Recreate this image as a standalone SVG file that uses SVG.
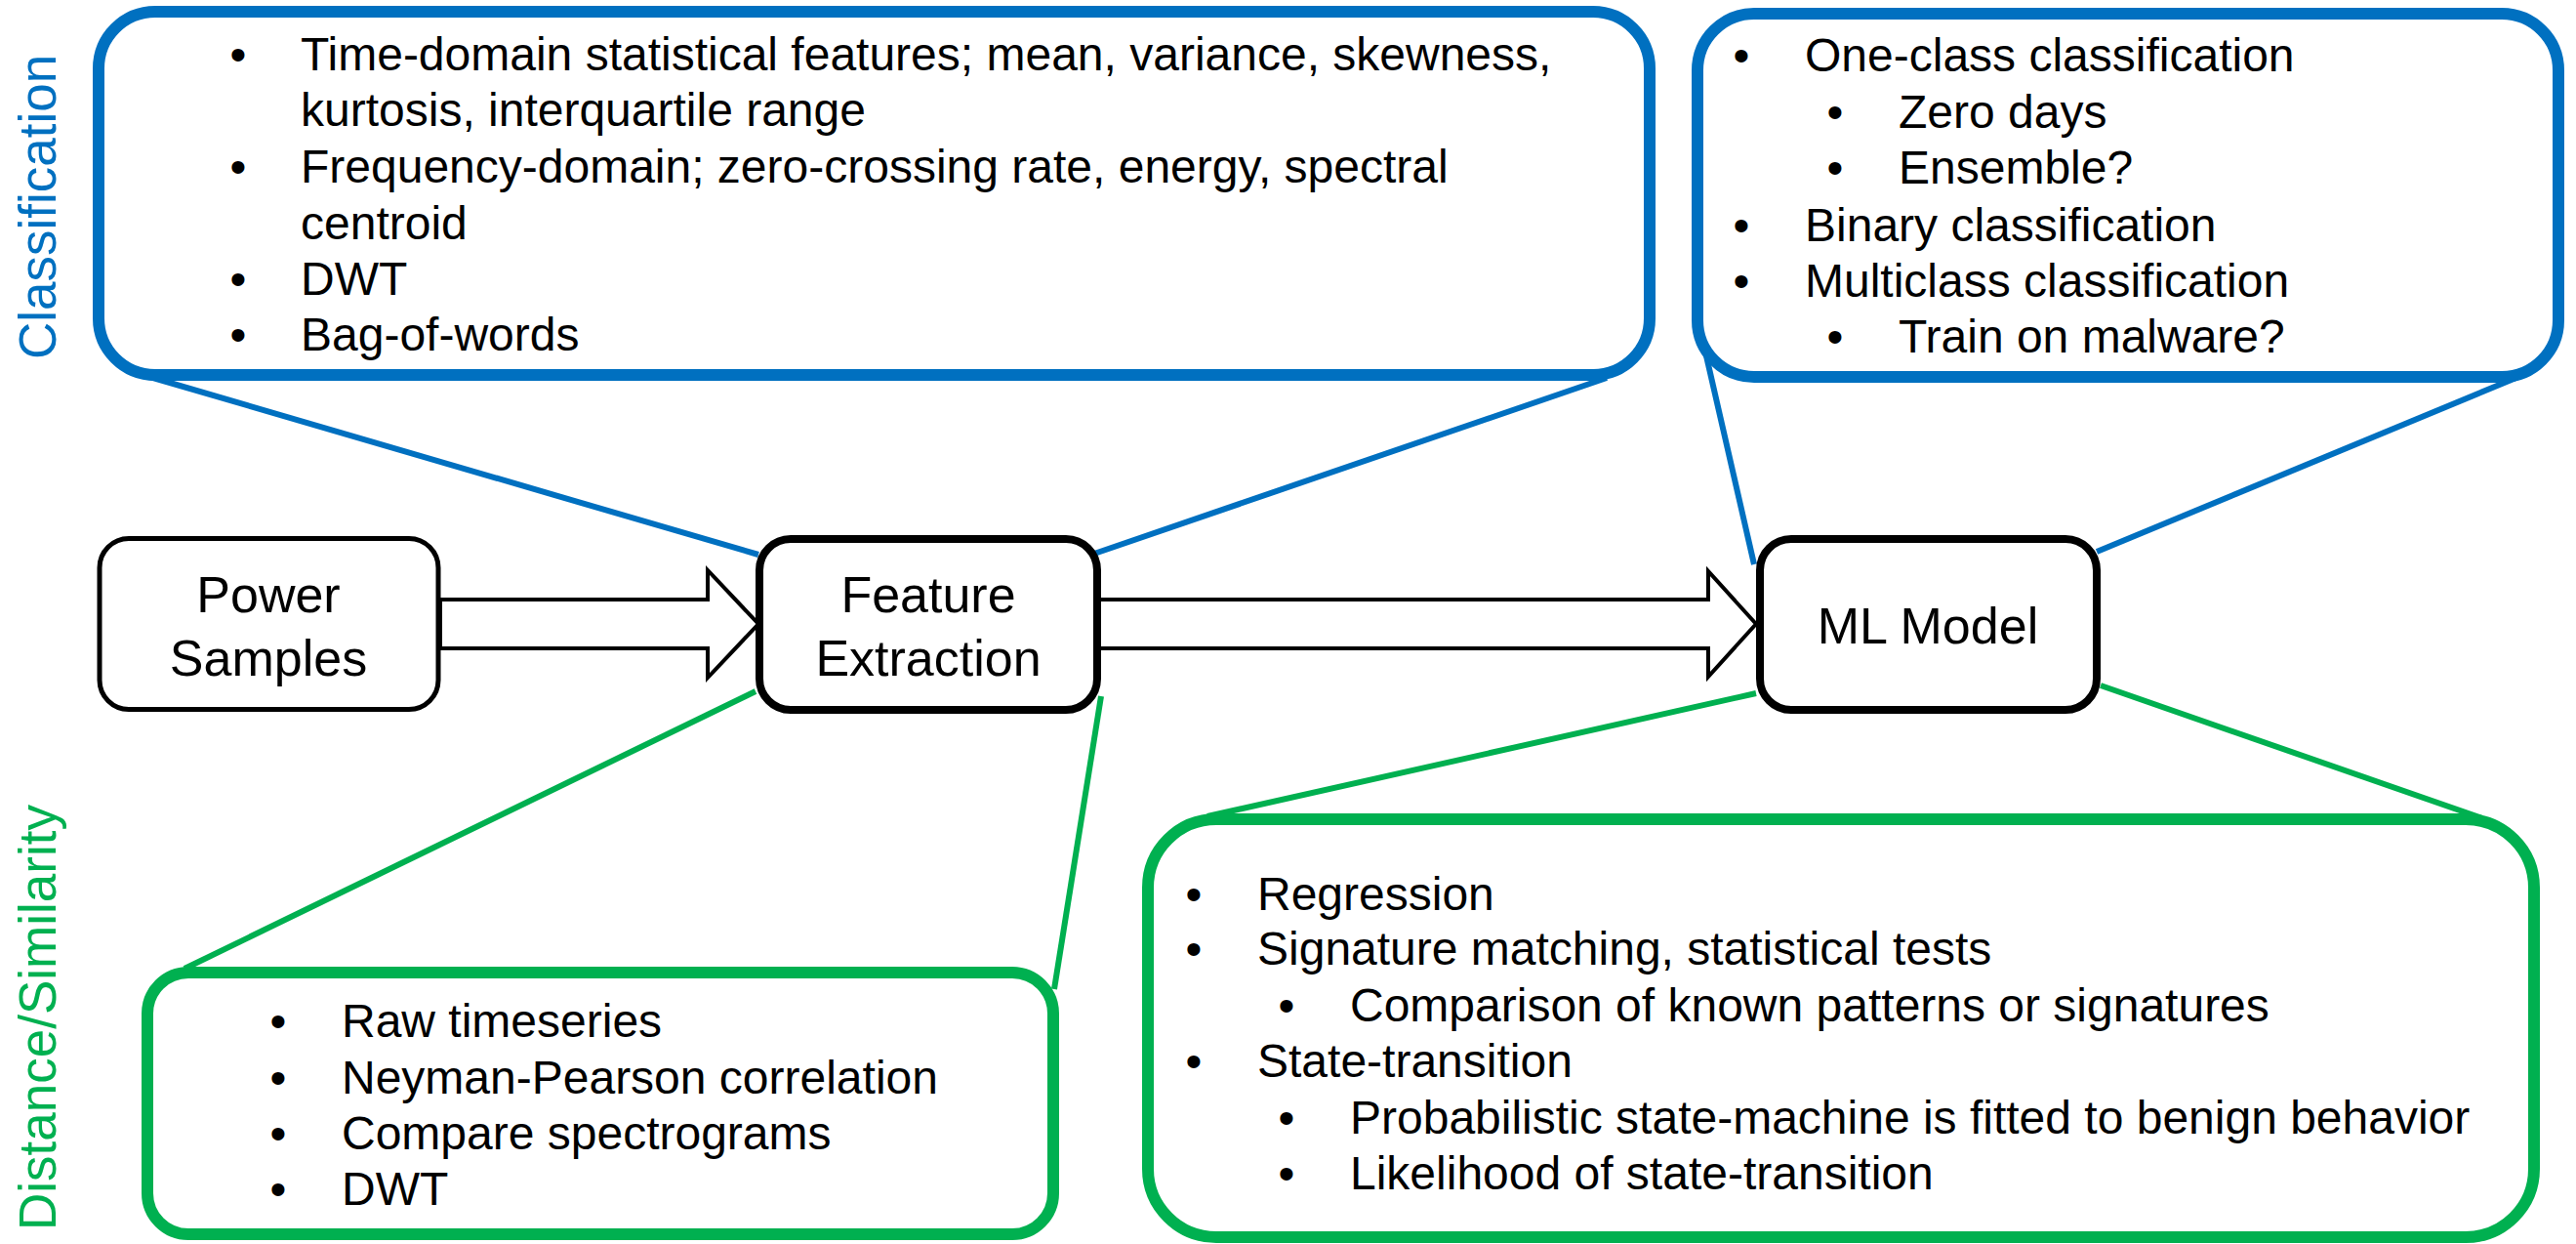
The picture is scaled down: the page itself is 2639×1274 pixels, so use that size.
<svg xmlns="http://www.w3.org/2000/svg" width="2639" height="1274" viewBox="0 0 2639 1274">
  <style>
    text { font-family: "Liberation Sans", Arial, sans-serif; fill: #000; }
    .node { fill: #fff; stroke: #000; }
    .label { font-size: 52px; text-anchor: middle; }
    .item { font-size: 48px; }
    .bullet { font-size: 48px; text-anchor: middle; }
    .blue { fill: #fff; stroke: #0070C0; stroke-width: 12; }
    .green { fill: #fff; stroke: #00B050; stroke-width: 12; }
    .tail-blue { stroke: #0070C0; stroke-width: 6; fill: none; }
    .tail-green { stroke: #00B050; stroke-width: 6; fill: none; }
    .flow { fill: #fff; stroke: #000; stroke-width: 4; stroke-linejoin: miter; }
    .side { font-size: 53px; text-anchor: middle; }
  </style>

  <!-- callout tails and flow arrows -->
  <g id="connectors">
    <line class="tail-blue" x1="150" y1="385" x2="777" y2="568"/>
    <line class="tail-blue" x1="1646" y1="387" x2="1121" y2="567"/>
    <line class="tail-blue" x1="1747" y1="360" x2="1797" y2="578"/>
    <line class="tail-blue" x1="2580" y1="386" x2="2148" y2="565"/>
    <line class="tail-green" x1="774" y1="708" x2="189" y2="992"/>
    <line class="tail-green" x1="1128" y1="713" x2="1080" y2="1013"/>
    <line class="tail-green" x1="1799" y1="710" x2="1237" y2="836"/>
    <line class="tail-green" x1="2152" y1="702" x2="2543" y2="838"/>
    <polygon id="arrow-samples-features" class="flow" points="451,614 725,614 725,584 777,639 725,694 725,664 451,664"/>
    <polygon id="arrow-features-model" class="flow" points="1124,614 1750,614 1750,585 1799,639 1750,693 1750,664 1124,664"/>
  </g>

  <!-- side labels -->
  <g id="label-classification">
    <text class="side" transform="translate(57,212) rotate(-90)" style="fill:#0070C0">Classification</text>
  </g>
  <g id="label-distance">
    <text class="side" transform="translate(57,1042) rotate(-90)" style="fill:#00B050">Distance/Similarity</text>
  </g>

  <!-- flow nodes -->
  <g id="power-samples">
    <rect class="node" x="102" y="551.5" width="347" height="175" rx="30" stroke-width="5"/>
    <text class="label" x="275" y="627">Power</text>
    <text class="label" x="275" y="692">Samples</text>
  </g>
  <g id="feature-extraction">
    <rect class="node" x="778" y="552" width="346" height="175" rx="32" stroke-width="8"/>
    <text class="label" x="951" y="627">Feature</text>
    <text class="label" x="951" y="692">Extraction</text>
  </g>
  <g id="ml-model">
    <rect class="node" x="1803" y="552" width="345" height="175" rx="32" stroke-width="8"/>
    <text class="label" x="1975" y="659">ML Model</text>
  </g>

  <!-- classification features -->
  <g id="features-classification">
    <rect class="blue" x="101" y="12" width="1589" height="372" rx="58"/>
    <text class="bullet" x="244" y="72">•</text>
    <text class="item" x="308" y="72">Time-domain statistical features; mean, variance, skewness,</text>
    <text class="item" x="308" y="129">kurtosis, interquartile range</text>
    <text class="bullet" x="244" y="187">•</text>
    <text class="item" x="308" y="187">Frequency-domain; zero-crossing rate, energy, spectral</text>
    <text class="item" x="308" y="245">centroid</text>
    <text class="bullet" x="244" y="302">•</text>
    <text class="item" x="308" y="302">DWT</text>
    <text class="bullet" x="244" y="359">•</text>
    <text class="item" x="308" y="359">Bag-of-words</text>
  </g>

  <!-- classification models -->
  <g id="models-classification">
    <rect class="blue" x="1739" y="14" width="882" height="372" rx="58"/>
    <text class="bullet" x="1784" y="73">•</text>
    <text class="item" x="1849" y="73">One-class classification</text>
    <text class="bullet" x="1880" y="131">•</text>
    <text class="item" x="1945" y="131">Zero days</text>
    <text class="bullet" x="1880" y="188">•</text>
    <text class="item" x="1945" y="188">Ensemble?</text>
    <text class="bullet" x="1784" y="247">•</text>
    <text class="item" x="1849" y="247">Binary classification</text>
    <text class="bullet" x="1784" y="304">•</text>
    <text class="item" x="1849" y="304">Multiclass classification</text>
    <text class="bullet" x="1880" y="361">•</text>
    <text class="item" x="1945" y="361">Train on malware?</text>
  </g>

  <!-- distance / similarity features -->
  <g id="features-distance">
    <rect class="green" x="151" y="996" width="928" height="268" rx="42"/>
    <text class="bullet" x="285" y="1062">•</text>
    <text class="item" x="350" y="1062">Raw timeseries</text>
    <text class="bullet" x="285" y="1120">•</text>
    <text class="item" x="350" y="1120">Neyman-Pearson correlation</text>
    <text class="bullet" x="285" y="1177">•</text>
    <text class="item" x="350" y="1177">Compare spectrograms</text>
    <text class="bullet" x="285" y="1234">•</text>
    <text class="item" x="350" y="1234">DWT</text>
  </g>

  <!-- distance / similarity models -->
  <g id="models-distance">
    <rect class="green" x="1176" y="839" width="1420" height="428" rx="70"/>
    <text class="bullet" x="1223" y="932">•</text>
    <text class="item" x="1288" y="932">Regression</text>
    <text class="bullet" x="1223" y="988">•</text>
    <text class="item" x="1288" y="988">Signature matching, statistical tests</text>
    <text class="bullet" x="1318" y="1046">•</text>
    <text class="item" x="1383" y="1046">Comparison of known patterns or signatures</text>
    <text class="bullet" x="1223" y="1103">•</text>
    <text class="item" x="1288" y="1103">State-transition</text>
    <text class="bullet" x="1318" y="1161">•</text>
    <text class="item" x="1383" y="1161">Probabilistic state-machine is fitted to benign behavior</text>
    <text class="bullet" x="1318" y="1218">•</text>
    <text class="item" x="1383" y="1218">Likelihood of state-transition</text>
  </g>
</svg>
